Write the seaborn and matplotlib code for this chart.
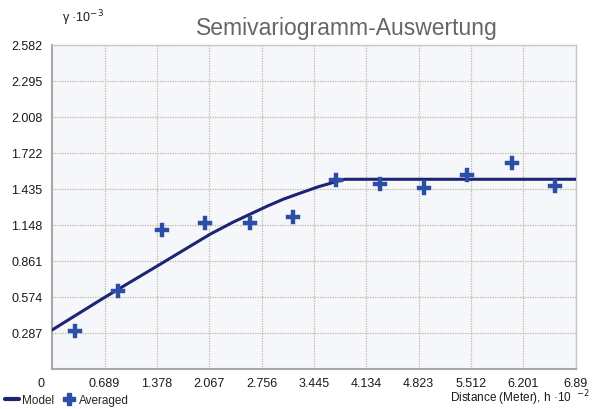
import numpy as np
import pandas as pd
import seaborn as sns
import matplotlib.pyplot as plt
from matplotlib.lines import Line2D

# averaged semivariogram points (h in 1e-2 m, gamma in 1e-3)
avg_h = [0.30, 0.87, 1.45, 2.01, 2.60, 3.17, 3.73, 4.31, 4.89, 5.46, 6.05, 6.61]
avg_g = [0.302, 0.620, 1.105, 1.161, 1.161, 1.208, 1.503, 1.471, 1.439, 1.542, 1.638, 1.455]

# model curve
model_h = [0.0, 0.675, 1.381, 2.078, 2.380, 2.827, 3.040, 3.261, 3.496, 3.695, 3.852, 6.89]
model_g = [0.310, 0.564, 0.819, 1.073, 1.169, 1.296, 1.352, 1.400, 1.450, 1.485, 1.511, 1.511]

xticks = [0.689, 1.378, 2.067, 2.756, 3.445, 4.134, 4.823, 5.512, 6.201, 6.89]
yticks = [0.287, 0.574, 0.861, 1.148, 1.435, 1.722, 2.008, 2.295, 2.582]

sns.set_style("white")
plt.rcParams['font.family'] = ['Liberation Sans', 'DejaVu Sans']

fig = plt.figure(figsize=(5.93, 4.10), dpi=100)
ax = fig.add_axes([0.088, 0.098, 0.883, 0.79])
ax.set_facecolor('#f5f7fa')

model_df = pd.DataFrame({'h': model_h, 'g': model_g})
avg_df = pd.DataFrame({'h': avg_h, 'g': avg_g})

sns.lineplot(data=model_df, x='h', y='g', ax=ax, color='#1c2473', linewidth=2.2, zorder=3)
sns.scatterplot(data=avg_df, x='h', y='g', ax=ax, marker='P', s=95, color='#2d4ea6',
                edgecolor='#2d4ea6', linewidth=0.3, zorder=4)

ax.set_xlim(0, 6.89)
ax.set_ylim(0, 2.582)
ax.set_xticks(xticks)
ax.set_xticklabels([f'{t:g}' for t in xticks])
ax.set_yticks(yticks)
ax.set_yticklabels([f'{t:.3f}' for t in yticks])
ax.tick_params(length=0, labelsize=9, colors='#1a1a1a', pad=7)
ax.tick_params(axis='x', pad=6)
ax.grid(True, linestyle=(0, (1, 1)), color='#bdb9a4', linewidth=0.9)
ax.set_xlabel('')
ax.set_ylabel('')
for side in ['left', 'bottom']:
    ax.spines[side].set_color('#a8a8a8')
    ax.spines[side].set_linewidth(1.5)
for side in ['top', 'right']:
    ax.spines[side].set_color('#c8c8c8')
    ax.spines[side].set_linewidth(1.0)

ax.text(-0.022, -0.024, '0', transform=ax.transAxes, ha='center', va='top', fontsize=9, color='#1a1a1a')

fig.text(0.585, 0.93, 'Semivariogramm-Auswertung', ha='center', va='center', fontsize=16.5, color='#666666')
fig.text(0.105, 0.955, r'γ ·10$^{-3}$', ha='left', va='center', fontsize=9, color='#1a1a1a')
fig.text(0.995, 0.004, r'Distance (Meter), h ·10  $^{-2}$', ha='right', va='bottom', fontsize=8.5, color='#1a1a1a')

handles = [Line2D([], [], color='#1c2473', linewidth=3),
           Line2D([], [], color='#2d4ea6', marker='P', linestyle='', markersize=9)]
fig.legend(handles, ['Model', 'Averaged'], loc='lower left', bbox_to_anchor=(-0.01, -0.018),
           ncol=2, frameon=False, fontsize=8.5, handlelength=1.2, handletextpad=0.3, columnspacing=0.6)

fig.savefig('out.png', dpi=100)
